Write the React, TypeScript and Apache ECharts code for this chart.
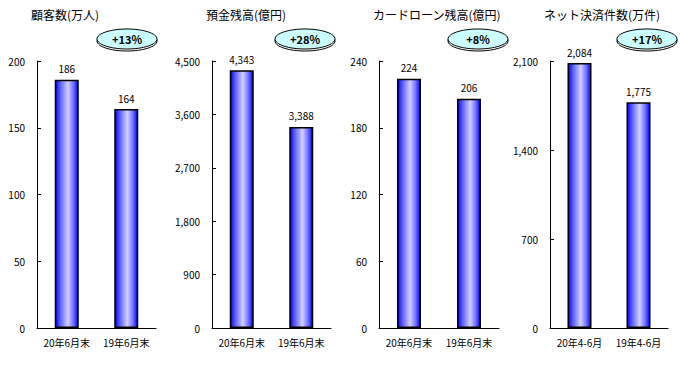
import React, { useEffect, useRef } from "react";
import * as echarts from "echarts";

const categoriesA = ["20年6月末", "19年6月末"];
const categoriesB = ["20年4-6月", "19年4-6月"];
const titles = ["顧客数(万人)", "預金残高(億円)", "カードローン残高(億円)", "ネット決済件数(万件)"];
const customers = [186, 164];
const deposits = [4343, 3388];
const cardLoans = [224, 206];
const payments = [2084, 1775];
const growthLabels = ["+13%", "+28%", "+8%", "+17%"];
const axisMax = [200, 4500, 240, 2100];
const axisStep = [50, 900, 60, 700];

const gridLefts = [37, 212, 379, 550];
const gridWidths = [119, 119, 120, 118];
const ellipseCenters = [127, 305, 478, 647];

const FONT = "'Noto Sans CJK JP', 'DejaVu Sans', sans-serif";

export default function App() {
  const ref = useRef<HTMLDivElement>(null);
  useEffect(() => {
    if (!ref.current) return;
    const chart = echarts.init(ref.current, null, { renderer: "svg" });
    const seriesData = [customers, deposits, cardLoans, payments];
    const cats = [categoriesA, categoriesA, categoriesA, categoriesB];
    const barColor = new echarts.graphic.LinearGradient(0, 0, 1, 0, [
      { offset: 0, color: "#0000ff" },
      { offset: 0.2, color: "#5a5aff" },
      { offset: 0.55, color: "#d0d0ff" },
      { offset: 0.8, color: "#7070ff" },
      { offset: 1, color: "#0000ff" },
    ]);
    const grids = gridLefts.map((l, i) => ({
      left: l,
      top: 61,
      width: gridWidths[i],
      height: 267,
    }));
    const xAxes = cats.map((c, i) => ({
      type: "category" as const,
      gridIndex: i,
      data: c,
      axisLine: { lineStyle: { color: "#000", width: 1 } },
      axisTick: { inside: true, length: 4, lineStyle: { color: "#000" } },
      axisLabel: { color: "#000", fontSize: 10, fontFamily: FONT, margin: 9, interval: 0 },
    }));
    const yAxes = axisMax.map((m, i) => ({
      type: "value" as const,
      gridIndex: i,
      min: 0,
      max: m,
      interval: axisStep[i],
      splitLine: { show: false },
      axisLine: { show: true, lineStyle: { color: "#000", width: 1 } },
      axisTick: { show: true, inside: true, length: 4, lineStyle: { color: "#000" } },
      axisLabel: {
        color: "#000",
        fontSize: 10,
        fontFamily: FONT,
        margin: 12,
        formatter: (v: number) => v.toLocaleString("en-US"),
      },
    }));
    const series = seriesData.map((d, i) => ({
      type: "bar" as const,
      xAxisIndex: i,
      yAxisIndex: i,
      data: d,
      barWidth: 24,
      itemStyle: { color: barColor, borderColor: "#000", borderWidth: 1.5 },
      label: {
        show: true,
        position: "top" as const,
        distance: 6,
        color: "#000",
        fontSize: 10,
        fontFamily: FONT,
        formatter: (p: any) => Number(p.value).toLocaleString("en-US"),
      },
    }));
    const graphics: any[] = [];
    titles.forEach((t, i) => {
      graphics.push({
        type: "text",
        left: gridLefts[i] - 6,
        top: 8,
        style: { text: t, fontSize: 12, fontFamily: FONT, fill: "#000" },
      });
    });
    growthLabels.forEach((g, i) => {
      const cx = ellipseCenters[i];
      graphics.push({
        type: "ellipse",
        shape: { cx, cy: 41, rx: 30, ry: 10 },
        style: { fill: "#fff", stroke: "#000", lineWidth: 1 },
      });
      graphics.push({
        type: "ellipse",
        shape: { cx, cy: 39, rx: 30, ry: 10 },
        style: { fill: "#ccffff", stroke: "#000", lineWidth: 1 },
      });
      graphics.push({
        type: "text",
        x: cx,
        y: 39,
        style: {
          text: g,
          fontSize: 11,
          fontWeight: "bold",
          fontFamily: FONT,
          fill: "#000",
          align: "center",
          verticalAlign: "middle",
        },
      });
    });
    chart.setOption({
      animation: false,
      backgroundColor: "#fff",
      grid: grids,
      xAxis: xAxes,
      yAxis: yAxes,
      series,
      graphic: graphics,
    });
    return () => chart.dispose();
  }, []);
  return (
    <div
      ref={ref}
      style={{ position: "fixed", left: 0, top: 0, width: 680, height: 369 }}
    />
  );
}
